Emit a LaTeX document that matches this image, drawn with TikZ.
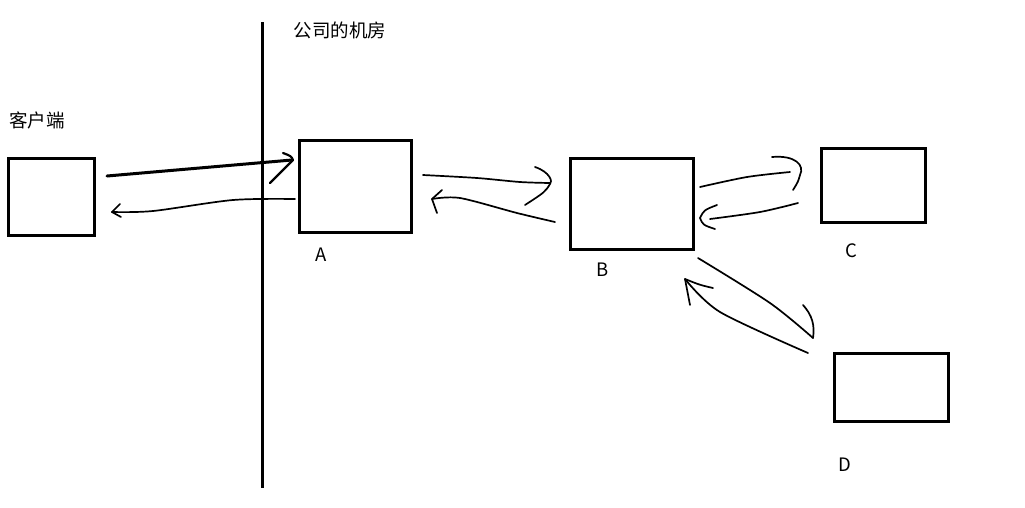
\documentclass[tikz,border=0pt]{standalone}
\usepackage{fontspec}
\setmainfont{Noto Sans CJK SC}
\begin{document}
\begin{tikzpicture}[x=1pt,y=-1pt,
  box/.style={draw=black,line width=3pt},
  lbl/.style={font=\fontsize{18.5}{22}\selectfont,inner sep=0pt},
  pen/.style={line width=1.7pt,line cap=round,line join=round},
  thickpen/.style={line width=3pt,line cap=round,line join=round}]
\useasboundingbox[fill=white] (0,0) rectangle (1025,507);
% boxes
\draw[box] (8,158) rectangle (94,235);
\node[inner sep=0pt] (cl) at (51,196.5) {};
\draw[box] (299,140) rectangle (411,232);
\node[inner sep=0pt] (A) at (355,186) {};
\draw[box] (570,158) rectangle (693,249);
\node[inner sep=0pt] (B) at (631.5,203.5) {};
\draw[box] (821,148) rectangle (925,222);
\node[inner sep=0pt] (C) at (873,185) {};
\draw[box] (834,353) rectangle (948,421);
\node[inner sep=0pt] (D) at (891,387) {};
% divider
\coordinate (vt) at (262,22);
\coordinate (vb) at (262,488);
\draw[line width=3pt] (vt) -- (vb);
% labels
\node[lbl] (lclient) at (37,120) {客户端};
\node[lbl] (lroom) at (340,30) {公司的机房};
\node[lbl] (la) at (321,255) {A};
\node[lbl] (lb) at (603,270) {B};
\node[lbl] (lc) at (851,251) {C};
\node[lbl] (ld) at (845,465) {D};
% client -> A
\draw[thickpen] (107,176) -- (292,160);
\draw[pen,line width=2.2pt] (283,153) .. controls (291,156) .. (293,160) -- (270,183);
% A -> client
\draw[pen] plot[smooth,tension=0.5] coordinates {(295,199) (233,200) (153,211) (112,212)};
\draw[pen] (120,204) -- (112,212) -- (121,217);
% A -> B
\draw[pen] plot[smooth,tension=0.5] coordinates {(423,175) (477,178) (520,182) (550,183)};
\draw[pen] (535,167) .. controls (550,172) and (553,182) .. (550,184) .. controls (545,192) .. (525,205);
% B -> A
\draw[pen] plot[smooth,tension=0.5] coordinates {(555,222) (517,213) (460,198) (432,199)};
\draw[pen] (442,190) -- (432,199) -- (437,213);
% B -> C
\draw[pen] plot[smooth,tension=0.5] coordinates {(700,187) (747,177) (790,172)};
\draw[pen] (772,157) .. controls (795,155) and (805,165) .. (800,175) .. controls (798,182) .. (793,190);
% C -> B
\draw[pen] plot[smooth,tension=0.5] coordinates {(798,203) (760,212) (710,219)};
\draw[pen] (717,205) .. controls (704,210) .. (700,218) .. controls (703,225) .. (715,229);
% B -> D
\draw[pen] plot[smooth,tension=0.5] coordinates {(698,258) (770,303) (813,338)};
\draw[pen] (803,305) .. controls (812,315) and (815,325) .. (813,338);
% D -> B
\draw[pen] plot[smooth,tension=0.5] coordinates {(808,353) (720,312) (685,279)};
\draw[pen] (713,288) .. controls (700,285) .. (685,279) -- (690,305);
\end{tikzpicture}
\end{document}
